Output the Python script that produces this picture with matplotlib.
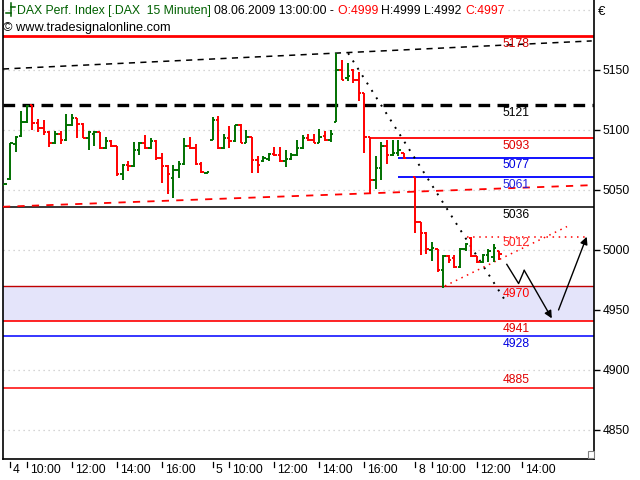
#!/usr/bin/env python3
import numpy as np
import matplotlib.pyplot as plt
from matplotlib.patches import Rectangle

plt.rcParams['font.family'] = ['Liberation Sans', 'DejaVu Sans']

# 15-min bars, index 0 = 04.06. 09:15, 36 bars per trading day
nan = np.nan
bar_x = np.arange(-1, 88)
opens = [5054, 5059, 5088, 5095, 5107, 5121, 5106, 5102, 5098, 5089, 5097, 5092, 5104, 5110, 5105, 5093,
         5097, 5098, 5085, 5091, 5087, 5063, 5071, 5070, 5083, 5089, 5085, 5091, 5077, 5070, 5060, 5067,
         5072, 5087, 5085, 5072, 5064,
         5092, 5108, 5085, 5093, 5091, 5104, 5089, 5094, 5075, 5074, 5076, 5080, 5079, 5074, 5076, 5079,
         5085, 5093, 5092, 5089, 5095, 5092, 5107, 5150, 5143, 5150, 5142, 5131, 5094, 5058, 5068, 5087,
         5079, 5081, 5081, nan,
         5061, 5023, 5014, 5000, 5001, 4983, 4995, 4993, 4986, 5001, 5010, 4995, 4990, 4996, 4994, 4999]
highs = [5055, 5089, 5095, 5116, 5121, 5121, 5109, 5108, 5099, 5099, 5099, 5113, 5113, 5110, 5106, 5099,
         5099, 5098, 5094, 5092, 5087, 5072, 5074, 5090, 5090, 5096, 5093, 5092, 5081, 5071, 5071, 5074,
         5093, 5094, 5088, 5073, 5065,
         5111, 5112, 5097, 5103, 5104, 5105, 5100, 5094, 5078, 5078, 5081, 5086, 5086, 5083, 5081, 5092,
         5096, 5097, 5097, 5101, 5099, 5100, 5164, 5158, 5156, 5151, 5148, 5131, 5094, 5078, 5090, 5092,
         5092, 5092, 5081, nan,
         5061, 5023, 5015, 5007, 5001, 4996, 4996, 4996, 5002, 5006, 5011, 4995, 4997, 5001, 5005, 4999]
lows = [5054, 5058, 5082, 5094, 5106, 5100, 5098, 5096, 5086, 5088, 5088, 5091, 5103, 5093, 5093, 5083,
        5087, 5084, 5084, 5086, 5062, 5058, 5066, 5069, 5079, 5084, 5084, 5075, 5056, 5047, 5043, 5060,
        5071, 5084, 5071, 5064, 5063,
        5092, 5084, 5084, 5085, 5090, 5089, 5089, 5064, 5064, 5073, 5074, 5078, 5073, 5069, 5075, 5078,
        5084, 5091, 5089, 5089, 5091, 5090, 5107, 5142, 5141, 5139, 5124, 5081, 5047, 5051, 5058, 5072,
        5078, 5078, 5076, nan,
        5014, 4996, 4997, 4991, 4982, 4968, 4989, 4985, 4985, 4999, 4994, 4989, 4989, 4990, 4990, 4992]
closes = [5055, 5089, 5094, 5107, 5120, 5106, 5102, 5098, 5089, 5097, 5092, 5104, 5110, 5105, 5093, 5098,
          5098, 5085, 5091, 5087, 5063, 5071, 5070, 5083, 5089, 5085, 5091, 5077, 5070, 5063, 5067, 5072,
          5087, 5085, 5072, 5065, 5065,
          5108, 5085, 5093, 5091, 5104, 5089, 5094, 5075, 5071, 5077, 5080, 5079, 5074, 5076, 5079, 5085,
          5093, 5092, 5089, 5094, 5092, 5097, 5150, 5142, 5145, 5142, 5131, 5094, 5058, 5068, 5087, 5079,
          5081, 5083, 5077, nan,
          5023, 5014, 5001, 5002, 4983, 4995, 4992, 4986, 5001, 5005, 4995, 4990, 4996, 4999, 5002, 4997]

# x axis: day starts and hour ticks
day_starts = [0, 36, 72]
day_labels = ['4', '5', '8']
hour_labels = [['10:00', '12:00', '14:00', '16:00'],
               ['10:00', '12:00', '14:00', '16:00'],
               ['10:00', '12:00', '14:00']]

# horizontal levels
levels = [5178, 5121, 5093, 5077, 5061, 5036, 5012, 4970, 4941, 4928, 4885]
level_text_colors = ['#CC0000', 'black', '#E00000', '#0000E0', '#2020E0', 'black',
                     '#FF2020', '#FF0000', '#E00000', '#0000E0', '#E00000']

# trend lines (bar index, price)
upper_dash_x, upper_dash_y = [-1.24, 103.4], [5150.8, 5174.2]
lower_dash_x, lower_dash_y = [-1.24, 103.4], [5036.0, 5054.0]
down_dot_x, down_dot_y = [60.1, 88.4], [5164.0, 4955.0]
rise_dot_x, rise_dot_y = [77.3, 99.0], [4970.0, 5019.5]
flat_dot_x, flat_dot_y = [81.2, 102.6], [5011.0, 5011.0]
zig_x, zig_y = [88.3, 90.4, 91.4, 96.3], [4988.0, 4972.0, 4983.0, 4943.0]
up_x, up_y = [97.5, 102.5], [4950.0, 5011.0]

GREEN = '#007000'
RED = '#FF0000'

fig = plt.figure(figsize=(6.4, 4.8), dpi=100)
ax = fig.add_axes([3 / 640, 21 / 480, 591 / 640, 459 / 480])
ax.set_xlim(-1.24, 103.8)
ax.set_ylim(4825.8, 5208.3)

# grid
for g in range(4850, 5201, 50):
    ax.axhline(g, color='#C8C8C8', lw=0.9, ls=(0, (1, 3)), zorder=0)

# band
ax.axhspan(4941, 4970, color='#E4E4FA', lw=0, zorder=0.5)

# horizontal level lines
ax.axhline(5178, color='#FF0000', lw=2.0, zorder=2)
ax.axhline(5121, color='black', lw=2.4, ls=(0, (3.5, 2.2)), zorder=2)
ax.hlines(5093, 64, 103.8, color='#FF0000', lw=1.3, zorder=2)
ax.hlines([5077, 5061], 69, 103.8, color='#0000FF', lw=1.3, zorder=2)
ax.axhline(5036, color='black', lw=1.1, zorder=2)
ax.axhline(4970, color='#C00000', lw=1.0, zorder=2)
ax.axhline(4941, color='#FF0000', lw=1.2, zorder=2)
ax.axhline(4928, color='#0000FF', lw=1.1, zorder=2)
ax.axhline(4885, color='#FF0000', lw=1.1, zorder=2)

# level labels
for lv, col in zip(levels, level_text_colors):
    if lv == 4885:
        ax.text(87.5, lv + 2.0, str(lv), color=col, fontsize=8.7, va='bottom', ha='left', zorder=5)
    else:
        ax.text(87.5, lv - 1.5, str(lv), color=col, fontsize=8.7, va='top', ha='left', zorder=5)

# trend lines
ax.plot(upper_dash_x, upper_dash_y, color='black', lw=1.1, ls=(0, (4, 3.5)), zorder=3)
ax.plot(lower_dash_x, lower_dash_y, color='#FF0000', lw=1.3, ls=(0, (4, 4)), zorder=3)
ax.plot(down_dot_x, down_dot_y, color='black', lw=1.4, ls=(0, (1, 3.5)), zorder=3)
ax.plot(rise_dot_x, rise_dot_y, color='#FF0000', lw=1.1, ls=(0, (1, 3)), zorder=3)
ax.plot(flat_dot_x, flat_dot_y, color='#FF0000', lw=1.1, ls=(0, (1, 3)), zorder=3)

# arrows
ax.plot(zig_x[:-1], zig_y[:-1], color='black', lw=1.0, zorder=4)
ax.annotate('', xy=(zig_x[-1], zig_y[-1]), xytext=(zig_x[-2], zig_y[-2]),
            arrowprops=dict(arrowstyle='-|>', color='black', lw=1.0, mutation_scale=11,
                            shrinkA=0, shrinkB=0), zorder=4)
ax.annotate('', xy=(up_x[1], up_y[1]), xytext=(up_x[0], up_y[0]),
            arrowprops=dict(arrowstyle='-|>', color='black', lw=1.0, mutation_scale=11,
                            shrinkA=0, shrinkB=0), zorder=4)

# OHLC bars
o = np.array(opens, float)
h = np.array(highs, float)
l = np.array(lows, float)
c = np.array(closes, float)
cols = [GREEN if cc >= oo else RED for oo, cc in zip(o, c)]
tw = 0.45
ax.vlines(bar_x, l, h, colors=cols, lw=1.4, zorder=6)
ax.hlines(o, bar_x - tw, bar_x, colors=cols, lw=1.4, zorder=6)
ax.hlines(c, bar_x, bar_x + tw, colors=cols, lw=1.4, zorder=6)

# y axis on the right
ax.yaxis.tick_right()
ax.set_yticks(range(4850, 5151, 50))
ax.tick_params(axis='y', length=4, width=1, pad=2, labelsize=8.7, direction='out')
ax.set_xticks([])
ax.spines['top'].set_visible(False)
for s in ['left', 'right', 'bottom']:
    ax.spines[s].set_linewidth(1.2)

# x axis ticks, drawn by hand below the frame
trans = ax.get_xaxis_transform()
px = 1 / 459
for d0, dl, hl in zip(day_starts, day_labels, hour_labels):
    ticks = [(d0, dl)] + [(d0 + 3 + 8 * k, s) for k, s in enumerate(hl)]
    for tx, s in ticks:
        ax.plot([tx, tx], [-3 * px, -8 * px], color='black', lw=0.9, transform=trans, clip_on=False)
        ax.text(tx + 0.55, -11 * px, s, transform=trans, fontsize=8.7, ha='left', va='center')

# header
segments = [('DAX Perf. Index [.DAX  15 Minuten] ', '#006000'),
            ('08.06.2009 13:00:00 - ', 'black'),
            ('O:4999 ', '#FF0000'),
            ('H:4999 L:4992 ', 'black'),
            ('C:4997', '#FF0000')]
t = None
for s, col in segments:
    bb = dict(fc='white', ec='none', pad=0)
    if t is None:
        t = ax.annotate(s, xy=(17, 463), xycoords='figure pixels', va='bottom', ha='left',
                        fontsize=8.8, color=col, bbox=bb, zorder=10)
    else:
        t = ax.annotate(s, xy=(1, 0), xycoords=t, va='bottom', ha='left',
                        fontsize=8.8, color=col, bbox=bb, zorder=10)
fig.text(3 / 640, 1 - 28 / 480, '\u00a9 www.tradesignalonline.com', fontsize=9.2, va='center', ha='left')
fig.text(598 / 640, 1 - 12 / 480, '\u20ac', fontsize=9.5, va='center', ha='left')

# header bar icon
fig.add_artist(plt.Line2D([11 / 640, 11 / 640], [1 - 3 / 480, 1 - 16 / 480], color='#006000', lw=1.1))
fig.add_artist(plt.Line2D([6 / 640, 11 / 640], [1 - 13 / 480, 1 - 13 / 480], color='#006000', lw=1.1))
fig.add_artist(plt.Line2D([11 / 640, 15 / 640], [1 - 7 / 480, 1 - 7 / 480], color='#006000', lw=1.1))

# small corner icon
fig.add_artist(Rectangle((588 / 640, 22 / 480), 6 / 640, 7 / 480, fc='white', ec='#808080', lw=0.8))

plt.savefig('out.png', dpi=100)
